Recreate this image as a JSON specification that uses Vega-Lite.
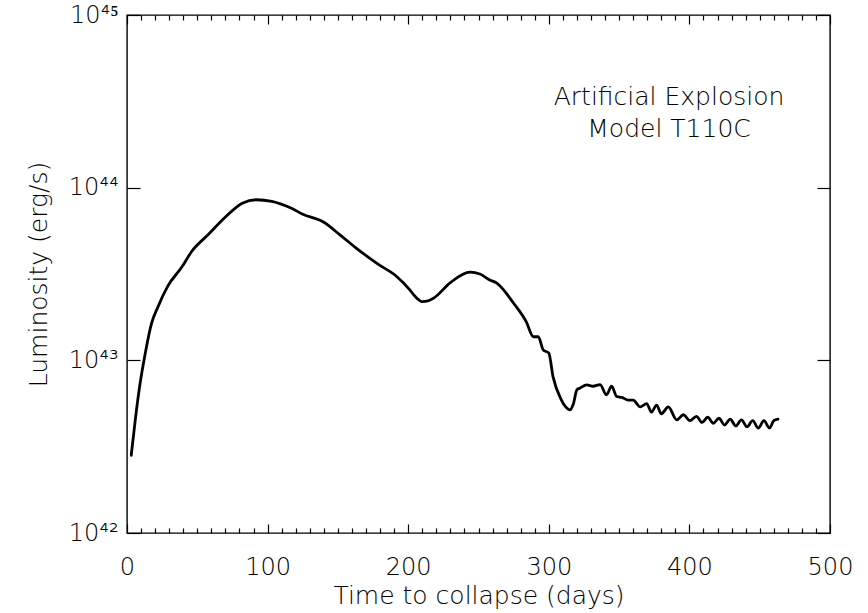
{
  "$schema": "https://vega.github.io/schema/vega-lite/v6.json",
  "width": 703,
  "height": 518,
  "autosize": "none",
  "padding": {"left": 127, "top": 15, "right": 38, "bottom": 80},
  "background": "white",
  "config": {
    "view": {"stroke": "black", "strokeWidth": 1.4},
    "font": "DejaVu Sans",
    "axis": {"domain": false, "grid": false, "ticks": true, "tickColor": "black", "tickWidth": 1.2, "tickOpacity": 1, "labelColor": "black", "titleColor": "black", "labelFont": "DejaVu Sans", "titleFont": "DejaVu Sans", "labelFontWeight": 200, "titleFontWeight": 200, "zindex": 1}
  },
  "data": {"values": [
    {"t": 3, "L": 2.82e42}, {"t": 6, "L": 4.6e42}, {"t": 9, "L": 7.08e42}, {"t": 13, "L": 1.10e43},
    {"t": 17.5, "L": 1.64e43}, {"t": 22, "L": 2.04e43}, {"t": 29, "L": 2.69e43}, {"t": 39, "L": 3.47e43},
    {"t": 46, "L": 4.27e43}, {"t": 58, "L": 5.37e43}, {"t": 70, "L": 6.76e43}, {"t": 82, "L": 8.13e43},
    {"t": 92, "L": 8.51e43}, {"t": 103, "L": 8.32e43}, {"t": 117, "L": 7.59e43}, {"t": 125, "L": 7.02e43},
    {"t": 140, "L": 6.31e43}, {"t": 151, "L": 5.37e43}, {"t": 163, "L": 4.47e43}, {"t": 178, "L": 3.63e43},
    {"t": 192, "L": 3.05e43}, {"t": 201, "L": 2.57e43}, {"t": 205, "L": 2.34e43}, {"t": 210, "L": 2.19e43},
    {"t": 214, "L": 2.21e43}, {"t": 218, "L": 2.29e43}, {"t": 230, "L": 2.82e43}, {"t": 244, "L": 3.24e43},
    {"t": 251, "L": 3.16e43}, {"t": 258, "L": 2.92e43}, {"t": 263, "L": 2.80e43}, {"t": 275, "L": 2.14e43},
    {"t": 284, "L": 1.67e43}, {"t": 289, "L": 1.37e43}, {"t": 292.5, "L": 1.37e43}, {"t": 296, "L": 1.15e43},
    {"t": 300, "L": 1.10e43}, {"t": 303, "L": 8.05e42}, {"t": 309, "L": 5.89e42}, {"t": 312, "L": 5.37e42},
    {"t": 315, "L": 5.16e42}, {"t": 317.5, "L": 5.6e42}, {"t": 320, "L": 6.76e42}, {"t": 322, "L": 6.89e42},
    {"t": 327, "L": 7.21e42}, {"t": 331.5, "L": 7.08e42}, {"t": 336.5, "L": 7.24e42}, {"t": 341, "L": 6.31e42},
    {"t": 344.7, "L": 7.08e42}, {"t": 348.3, "L": 6.17e42}, {"t": 352, "L": 6.1e42}, {"t": 356.5, "L": 5.89e42},
    {"t": 360, "L": 5.89e42}, {"t": 365, "L": 5.37e42}, {"t": 369.6, "L": 5.62e42}, {"t": 373, "L": 5.01e42},
    {"t": 376.7, "L": 5.50e42}, {"t": 380, "L": 4.90e42}, {"t": 385, "L": 5.37e42}, {"t": 391, "L": 4.52e42},
    {"t": 395.7, "L": 4.84e42}, {"t": 400.4, "L": 4.47e42}, {"t": 405, "L": 4.73e42}, {"t": 409, "L": 4.37e42},
    {"t": 413, "L": 4.68e42}, {"t": 417, "L": 4.32e42}, {"t": 421, "L": 4.62e42}, {"t": 425, "L": 4.22e42},
    {"t": 429, "L": 4.57e42}, {"t": 433, "L": 4.17e42}, {"t": 437, "L": 4.52e42}, {"t": 441, "L": 4.12e42},
    {"t": 445, "L": 4.47e42}, {"t": 449, "L": 4.05e42}, {"t": 453, "L": 4.47e42}, {"t": 457, "L": 4.05e42},
    {"t": 460, "L": 4.47e42}, {"t": 463, "L": 4.57e42}
  ]},
  "resolve": {"axis": {"x": "independent", "y": "independent"}},
  "layer": [
    {
      "mark": {"type": "line", "color": "black", "strokeWidth": 2.8, "strokeJoin": "round", "strokeCap": "round", "interpolate": "monotone"},
      "encoding": {
        "x": {"field": "t", "type": "quantitative", "scale": {"domain": [0, 500], "nice": false, "zero": false},
          "axis": {"orient": "bottom", "values": [0, 100, 200, 300, 400, 500], "tickSize": -9, "labelPadding": 31, "labelFontSize": 24, "labelFlush": false, "title": "Time to collapse (days)", "titleFontSize": 25, "titlePadding": 4}},
        "y": {"field": "L", "type": "quantitative", "scale": {"type": "log", "domain": [1e42, 1e45], "nice": false},
          "axis": {"orient": "left", "values": [1e42, 1e43, 1e44, 1e45], "tickSize": -13, "labelPadding": 22, "labelFontSize": 24, "labelFlush": false,
            "labelExpr": "'10' + (round(log(datum.value)/LN10) == 42 ? '⁴²' : round(log(datum.value)/LN10) == 43 ? '⁴³' : round(log(datum.value)/LN10) == 44 ? '⁴⁴' : '⁴⁵')",
            "title": "Luminosity (erg/s)", "titleFontSize": 25, "titlePadding": 17}}
      }
    },
    {
      "mark": {"type": "point", "opacity": 0},
      "encoding": {
        "x": {"field": "t", "type": "quantitative", "axis": {"orient": "bottom", "values": [10,20,30,40,50,60,70,80,90,110,120,130,140,150,160,170,180,190,210,220,230,240,250,260,270,280,290,310,320,330,340,350,360,370,380,390,410,420,430,440,450,460,470,480,490], "tickSize": -5, "labels": false, "title": null}},
        "y": {"field": "L", "type": "quantitative", "axis": {"orient": "right", "values": [1e42, 1e43, 1e44, 1e45], "tickSize": -13, "labels": false, "title": null}}
      }
    },
    {
      "mark": {"type": "point", "opacity": 0},
      "encoding": {
        "x": {"field": "t", "type": "quantitative", "axis": {"orient": "top", "values": [0, 100, 200, 300, 400, 500], "tickSize": -9, "labels": false, "title": null}},
        "y": {"field": "L", "type": "quantitative", "axis": null}
      }
    },
    {
      "mark": {"type": "point", "opacity": 0},
      "encoding": {
        "x": {"field": "t", "type": "quantitative", "axis": {"orient": "top", "values": [10,20,30,40,50,60,70,80,90,110,120,130,140,150,160,170,180,190,210,220,230,240,250,260,270,280,290,310,320,330,340,350,360,370,380,390,410,420,430,440,450,460,470,480,490], "tickSize": -5, "labels": false, "title": null}},
        "y": {"field": "L", "type": "quantitative", "axis": null}
      }
    },
    {
      "data": {"values": [
        {"t": 385.5, "L": 3.35e44, "txt": "Artificial Explosion"},
        {"t": 385.5, "L": 2.2e44, "txt": "Model T110C"}
      ]},
      "mark": {"type": "text", "fontSize": 25, "fontWeight": 200, "color": "black", "align": "center", "baseline": "middle", "font": "DejaVu Sans"},
      "encoding": {
        "x": {"field": "t", "type": "quantitative", "axis": null},
        "y": {"field": "L", "type": "quantitative", "axis": null},
        "text": {"field": "txt"}
      }
    }
  ]
}
